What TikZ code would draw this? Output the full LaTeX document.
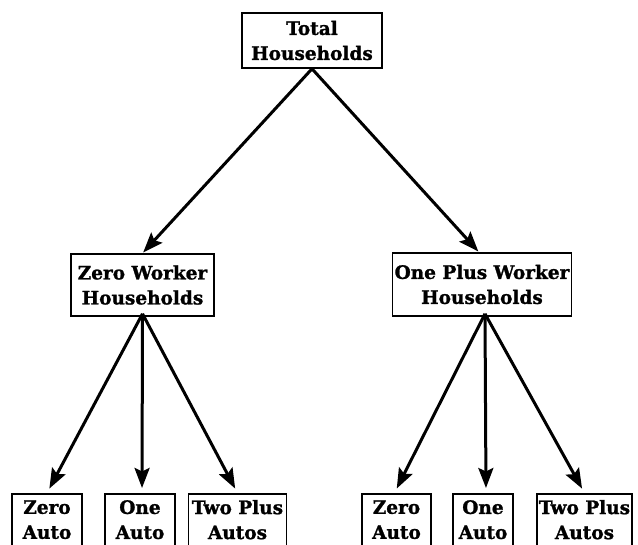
\documentclass[tikz,border=0pt]{standalone}
\usepackage{fontspec}
\setmainfont[BoldFeatures={FakeBold=1.3}]{DejaVu Serif}
\usetikzlibrary{arrows.meta}
\begin{document}
\begin{tikzpicture}[x=1pt,y=-1pt,
  box/.style={draw, line width=1.6pt, inner sep=0pt, align=center,
    font=\fontsize{18.5}{25}\selectfont\bfseries},
  leaf/.style={box, anchor=north, minimum height=84pt},
  arr/.style={line width=3pt, -{Stealth[length=20pt,width=15pt,inset=3.5pt]}}]
\useasboundingbox (0,0) rectangle (638,545);
\clip (0,0) rectangle (638,545);
% upper boxes
\node[box, minimum width=140pt, minimum height=55pt] (total) at (312,40.5) {Total\\Households};
\node[box, minimum width=143pt, minimum height=62pt] (zw) at (142.5,285) {Zero Worker\\Households};
\node[box, minimum width=179pt, minimum height=63pt] (op) at (482,284.5) {One Plus Worker\\Households};
% leaves (bottoms cut off by the page edge)
\node[leaf, minimum width=70pt] (lza) at (47,493) {Zero\\Auto\\\strut};
\node[leaf, minimum width=70pt] (loa) at (140,493) {One\\Auto\\\strut};
\node[leaf, minimum width=98pt] (ltp) at (237.5,493) {Two Plus\\Autos\\\strut};
\node[leaf, minimum width=69pt] (rza) at (396.5,493) {Zero\\Auto\\\strut};
\node[leaf, minimum width=60pt] (roa) at (483,493) {One\\Auto\\\strut};
\node[leaf, minimum width=95pt] (rtp) at (584.5,493) {Two Plus\\Autos\\\strut};
% connectors
\draw[arr, shorten >=1pt] (total.south) -- (zw.north);
\draw[arr, shorten >=1pt] (total.south) -- ([xshift=-3pt]op.north);
\draw[arr, shorten >=5pt] ([yshift=3pt]zw.south) -- (lza.north);
\draw[arr, shorten >=5pt] ([yshift=3pt]zw.south) -- ([xshift=2pt]loa.north);
\draw[arr, shorten >=5pt] ([yshift=3pt]zw.south) -- (ltp.north);
\draw[arr, shorten >=5pt] ([xshift=3pt,yshift=3pt]op.south) -- ([xshift=-2pt]rza.north);
\draw[arr, shorten >=5pt] ([xshift=3pt,yshift=3pt]op.south) -- ([xshift=3pt]roa.north);
\draw[arr, shorten >=5pt] ([xshift=3pt,yshift=3pt]op.south) -- (rtp.north);
\end{tikzpicture}
\end{document}
